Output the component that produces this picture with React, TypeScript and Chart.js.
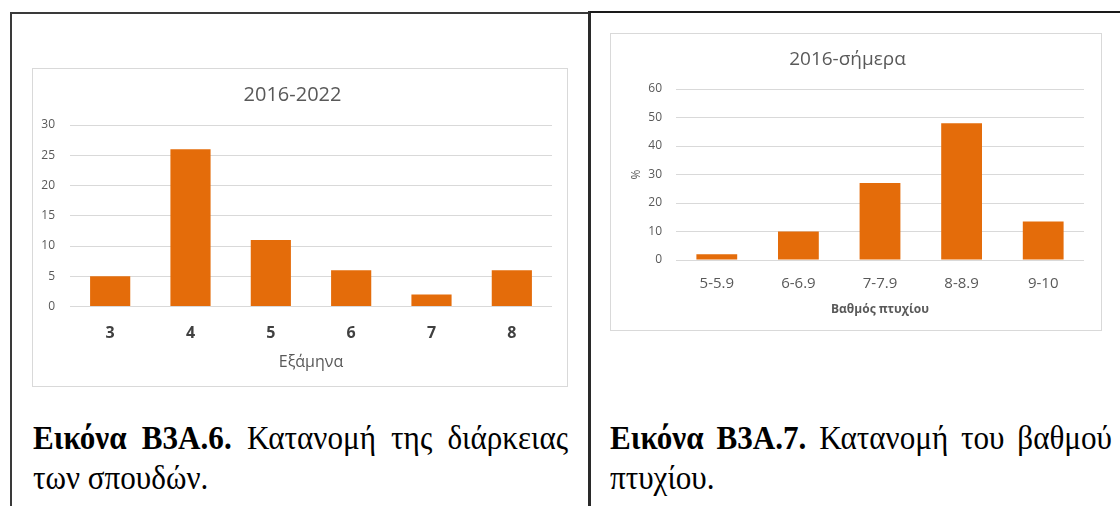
import React, { useEffect, useRef } from "react";
import { Chart, registerables } from "chart.js";

Chart.register(...registerables);

// ---- Data ----
const semesterLabels = ["3", "4", "5", "6", "7", "8"];
const semesterCounts = [5, 26, 11, 6, 2, 6];
const semesterTicks = [0, 5, 10, 15, 20, 25, 30];

const gradeLabels = ["5-5.9", "6-6.9", "7-7.9", "8-8.9", "9-10"];
const gradePercents = [2, 10, 27, 48, 13.5];
const gradeTicks = [0, 10, 20, 30, 40, 50, 60];

const leftTitle = "2016-2022";
const leftXTitle = "Εξάμηνα";
const rightTitle = "2016-σήμερα";
const rightXTitle = "Βαθμός πτυχίου";
const rightYTitle = "%";

const leftCaptionBold = "Εικόνα Β3Α.6.";
const leftCaptionLine1 = "Κατανομή της διάρκειας";
const leftCaptionLine2 = "των σπουδών.";
const rightCaptionBold = "Εικόνα Β3Α.7.";
const rightCaptionLine1 = "Κατανομή του βαθμού";
const rightCaptionLine2 = "πτυχίου.";

const ORANGE = "#E46C0A";
const GRID = "#d9d9d9";
const TEXT = "#595959";
const FONT = "'Open Sans', 'Noto Sans', sans-serif";

function useChart(ref: React.RefObject<HTMLCanvasElement | null>, makeConfig: () => any) {
  useEffect(() => {
    if (!ref.current) return;
    const chart = new Chart(ref.current, makeConfig());
    return () => chart.destroy();
  }, []);
}

function leftConfig(): any {
  return {
    type: "bar",
    data: {
      labels: semesterLabels,
      datasets: [
        {
          data: semesterCounts,
          backgroundColor: ORANGE,
          categoryPercentage: 1,
          barPercentage: 0.5,
        },
      ],
    },
    options: {
      responsive: false,
      animation: false,
      devicePixelRatio: 1,
      layout: { padding: { left: 0, right: 15, top: 0, bottom: 14 } },
      plugins: {
        legend: { display: false },
        tooltip: { enabled: false },
        title: {
          display: true,
          text: leftTitle,
          color: TEXT,
          font: { family: FONT, size: 20, weight: "normal" },
          padding: { top: 14, bottom: 18 },
        },
      },
      scales: {
        x: {
          grid: { display: false, drawTicks: false },
          border: { display: false },
          ticks: { color: "#404040", font: { family: FONT, size: 16, weight: "bold" }, padding: 17 },
          title: {
            display: true,
            text: leftXTitle,
            color: TEXT,
            font: { family: FONT, size: 16 },
            padding: { top: -7, bottom: 0 },
          },
        },
        y: {
          min: semesterTicks[0],
          max: semesterTicks[semesterTicks.length - 1],
          afterBuildTicks: (s: any) => {
            s.ticks = semesterTicks.map((v) => ({ value: v }));
          },
          ticks: { color: TEXT, font: { family: FONT, size: 12 }, padding: 15 },
          grid: { color: GRID, drawTicks: false },
          border: { display: false },
          afterFit: (s: any) => {
            s.width = 37;
          },
        },
      },
    },
  };
}

function rightConfig(): any {
  return {
    type: "bar",
    data: {
      labels: gradeLabels,
      datasets: [
        {
          data: gradePercents,
          backgroundColor: ORANGE,
          categoryPercentage: 1,
          barPercentage: 0.5,
        },
      ],
    },
    options: {
      responsive: false,
      animation: false,
      devicePixelRatio: 1,
      layout: { padding: { left: 0, right: 17, top: 0, bottom: 13.6 } },
      plugins: {
        legend: { display: false },
        tooltip: { enabled: false },
        title: {
          display: true,
          text: rightTitle,
          color: TEXT,
          font: { family: FONT, size: 19, weight: "normal" },
          padding: { top: 14.6, bottom: 17.6 },
        },
      },
      scales: {
        x: {
          grid: { display: false, drawTicks: false },
          border: { display: false },
          ticks: { color: TEXT, font: { family: FONT, size: 15 }, padding: 14.5 },
          title: {
            display: true,
            text: rightXTitle,
            color: TEXT,
            font: { family: FONT, size: 12, weight: "bold" },
            padding: { top: -5, bottom: 0 },
          },
        },
        y: {
          min: gradeTicks[0],
          max: gradeTicks[gradeTicks.length - 1],
          afterBuildTicks: (s: any) => {
            s.ticks = gradeTicks.map((v) => ({ value: v }));
          },
          ticks: { color: TEXT, font: { family: FONT, size: 12 }, padding: 14 },
          grid: { color: GRID, drawTicks: false },
          border: { display: false },
          title: {
            display: true,
            text: rightYTitle,
            color: TEXT,
            font: { family: FONT, size: 12 },
            padding: { top: 18, bottom: 0 },
          },
          afterFit: (s: any) => {
            s.width = 65;
          },
        },
      },
    },
  };
}

const abs = (left: number, top: number, width: number, height: number, extra: React.CSSProperties = {}): React.CSSProperties => ({
  position: "absolute",
  left,
  top,
  width,
  height,
  ...extra,
});

const SCALE_X = 0.915;

const captionStyle: React.CSSProperties = {
  fontFamily: "'Liberation Serif', 'Times New Roman', serif",
  fontSize: 34,
  lineHeight: "40px",
  color: "#000",
  whiteSpace: "nowrap",
  transform: `scaleX(${SCALE_X})`,
  transformOrigin: "0 0",
};

const justifiedLine: React.CSSProperties = {
  textAlign: "justify",
  textAlignLast: "justify" as any,
  whiteSpace: "nowrap",
};

export default function App() {
  const leftRef = useRef<HTMLCanvasElement>(null);
  const rightRef = useRef<HTMLCanvasElement>(null);
  useChart(leftRef, leftConfig);
  useChart(rightRef, rightConfig);

  return (
    <div style={{ position: "absolute", left: 0, top: 0, width: 1120, height: 506, background: "#fff", overflow: "hidden" }}>
      {/* table borders */}
      <div style={abs(10, 12, 2, 494, { background: "#3a3a3a" })} />
      <div style={abs(10, 12, 578, 2, { background: "#3a3a3a" })} />
      <div style={abs(588, 11, 3, 495, { background: "#2a2a2a" })} />
      <div style={abs(590, 11, 530, 2, { background: "#1a1a1a" })} />

      {/* left chart box */}
      <div style={abs(32, 68, 536, 319, { border: "1px solid " + GRID, boxSizing: "border-box" })}>
        <canvas ref={leftRef} width={534} height={317} style={{ display: "block", width: 534, height: 317 }} />
      </div>

      {/* right chart box */}
      <div style={abs(610, 33, 492, 298, { border: "1px solid " + GRID, boxSizing: "border-box" })}>
        <canvas ref={rightRef} width={490} height={296} style={{ display: "block", width: 490, height: 296 }} />
      </div>

      {/* captions */}
      <div style={abs(33, 418, 535 / SCALE_X, 84, captionStyle)}>
        <div style={justifiedLine}>
          <b>{leftCaptionBold}</b> {leftCaptionLine1}
        </div>
        <div>{leftCaptionLine2}</div>
      </div>
      <div style={abs(610, 418, 502 / SCALE_X, 84, captionStyle)}>
        <div style={justifiedLine}>
          <b>{rightCaptionBold}</b> {rightCaptionLine1}
        </div>
        <div>{rightCaptionLine2}</div>
      </div>
    </div>
  );
}
